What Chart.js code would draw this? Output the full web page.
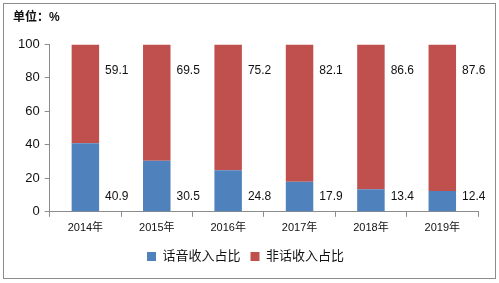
<!DOCTYPE html>
<html lang="zh">
<head>
<meta charset="UTF-8">
<title>话音收入占比</title>
<script src="https://cdn.jsdelivr.net/npm/chart.js"></script>
<style>
    html, body { margin: 0; padding: 0; background: #fff; }
    .frame {
        position: absolute; left: 3px; top: 3px;
        width: 491px; height: 274px;
        border: 1px solid #8c8c8c;
    }
    .chart-container { position: absolute; left: 0; top: 0; width: 499px; height: 283px; }
</style>
</head>
<body>
<div class="frame"></div>
<div class="chart-container"><canvas id="shareChart"></canvas></div>
<script>
    const years = ['2014年', '2015年', '2016年', '2017年', '2018年', '2019年'];
    const voiceShare = [40.9, 30.5, 24.8, 17.9, 13.4, 12.4];
    const nonVoiceShare = [59.1, 69.5, 75.2, 82.1, 86.6, 87.6];
    const yTicks = [0, 20, 40, 60, 80, 100];

    const fontFamily = "'Liberation Sans', 'Noto Sans CJK SC', sans-serif";

    // value labels sit to the right of each bar
    const sideLabels = {
        id: 'sideLabels',
        afterDatasetsDraw(chart) {
            const c = chart.ctx;
            const y = chart.scales.y;
            c.save();
            c.font = '12px ' + fontFamily;
            c.fillStyle = '#111';
            c.textAlign = 'left';
            c.textBaseline = 'middle';
            chart.data.datasets.forEach((ds, i) => {
                const meta = chart.getDatasetMeta(i);
                meta.data.forEach((bar, j) => {
                    const x = bar.x + bar.width / 2 + 6;
                    const yy = i === 0 ? y.getPixelForValue(9) : y.getPixelForValue(84);
                    c.fillText(ds.data[j].toFixed(1), x, yy);
                });
            });
            c.restore();
        }
    };

    const ctx = document.getElementById('shareChart').getContext('2d');
    const chart = new Chart(ctx, {
        type: 'bar',
        data: {
            labels: years,
            datasets: [{
                label: '话音收入占比',
                data: voiceShare,
                backgroundColor: '#4F81BD',
                categoryPercentage: 1,
                barPercentage: 0.385
            },
            {
                label: '非话收入占比',
                data: nonVoiceShare,
                backgroundColor: '#C0504D',
                categoryPercentage: 1,
                barPercentage: 0.385
            }]
        },
        options: {
            responsive: true,
            maintainAspectRatio: false,
            animation: false,
            layout: { padding: { left: 13, right: 21, top: 4, bottom: 10 } },
            scales: {
                x: {
                    stacked: true,
                    offset: true,
                    grid: { offset: true, drawOnChartArea: false, drawTicks: true, tickLength: 5, color: '#8c8c8c' },
                    border: { display: true, color: '#8c8c8c' },
                    ticks: { color: '#111', font: { size: 11, family: fontFamily }, padding: 5 }
                },
                y: {
                    stacked: true,
                    min: 0,
                    max: 100,
                    afterBuildTicks(axis) { axis.ticks = yTicks.map(v => ({ value: v })); },
                    grid: { drawOnChartArea: false, drawTicks: true, tickLength: 5, color: '#8c8c8c' },
                    border: { display: true, color: '#8c8c8c' },
                    ticks: { color: '#111', font: { size: 13, family: fontFamily }, padding: 5 }
                }
            },
            plugins: {
                title: {
                    display: true,
                    text: '单位：%',
                    align: 'start',
                    color: '#111',
                    font: { size: 12, weight: 'bold', family: fontFamily },
                    padding: { top: 6, bottom: 20 }
                },
                legend: {
                    position: 'bottom',
                    labels: {
                        color: '#111',
                        font: { size: 13, family: fontFamily },
                        boxWidth: 9,
                        boxHeight: 9,
                        padding: 10
                    }
                },
                tooltip: { enabled: false }
            }
        },
        plugins: [sideLabels]
    });
</script>
</body>
</html>
